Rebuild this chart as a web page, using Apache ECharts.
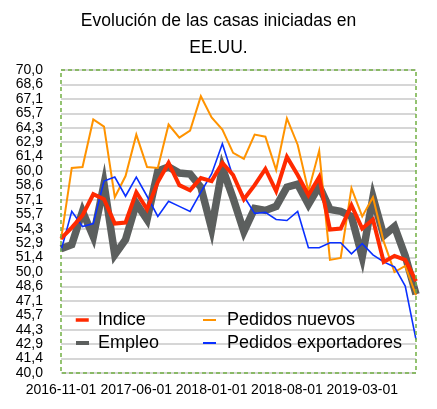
<!DOCTYPE html>
<html>
<head>
<meta charset="utf-8">
<script src="https://cdn.jsdelivr.net/npm/echarts@6/dist/echarts.min.js"></script>
<style>
html,body{margin:0;padding:0;background:#fff;}
#chart{width:437px;height:409px;}
</style>
</head>
<body>
<div id="chart"></div>
<script>
const categories = [
  "2016-11-01","2016-12-01","2017-01-01","2017-02-01","2017-03-01","2017-04-01","2017-05-01",
  "2017-06-01","2017-07-01","2017-08-01","2017-09-01","2017-10-01","2017-11-01","2017-12-01",
  "2018-01-01","2018-02-01","2018-03-01","2018-04-01","2018-05-01","2018-06-01","2018-07-01",
  "2018-08-01","2018-09-01","2018-10-01","2018-11-01","2018-12-01","2019-01-01","2019-02-01",
  "2019-03-01","2019-04-01","2019-05-01","2019-06-01","2019-07-01","2019-08-01"
];
const indice = [53.3, 54.4, 55.6, 57.7, 57.2, 54.8, 54.9, 57.9, 56.2, 58.9, 60.8, 58.6, 58.1, 59.3, 59.0, 60.8, 59.6,
  57.2, 58.6, 60.2, 58.0, 61.4, 59.6, 57.6, 59.4, 54.2, 54.3, 56.6, 54.3, 55.2, 51.0, 51.6, 51.2, 49.1];
const empleo = [52.3, 52.7, 56.0, 53.5, 58.7, 51.7, 53.2, 56.8, 55.2, 60.0, 60.4, 59.8, 59.7, 58.4, 54.3, 60.3, 57.3,
  54.0, 56.3, 56.1, 56.5, 58.4, 58.7, 56.7, 58.5, 56.2, 56.0, 55.5, 51.5, 57.4, 53.6, 54.5, 51.6, 47.8];
const pedidosNuevos = [53.2, 60.3, 60.4, 65.1, 64.4, 57.4, 59.5, 63.6, 60.4, 60.3, 64.6, 63.3, 64.0, 67.4, 65.3, 64.1, 61.8,
  61.2, 63.6, 63.4, 60.1, 65.2, 62.6, 58.0, 62.0, 51.2, 51.4, 58.3, 55.5, 57.4, 53.0, 50.0, 50.6, 47.7];
const pedidosExportadores = [52.1, 56.0, 54.5, 54.8, 59.0, 59.4, 57.5, 59.4, 57.5, 55.5, 57.0, 56.5, 56.0, 57.9, 59.7, 62.7, 59.4,
  57.5, 55.8, 55.9, 55.2, 55.1, 56.0, 52.4, 52.4, 52.9, 52.9, 51.8, 52.8, 51.7, 51.0, 50.5, 48.6, 43.3];
const yMin = 40, yMax = 70, yStep = 30 / 21;

const FONT = "'Liberation Sans', Arial, Helvetica, sans-serif";
const G = {left: 61, top: 70, right: 21, bottom: 36};
const W = 437, H = 409;

const chart = echarts.init(document.getElementById('chart'), null, {renderer: 'canvas'});
const lineBase = {type: 'line', symbol: 'none', smooth: false};
function legendItem(name, left, top, thick, pad) {
  return {
    data: [name], left: left, top: top, padding: 0,
    itemWidth: 13, itemHeight: 14,
    itemStyle: {opacity: 0},
    lineStyle: {width: thick, cap: 'butt'},
    textStyle: {fontFamily: FONT, fontSize: 18, color: '#000', padding: [0, 0, 0, pad]}
  };
}
chart.setOption({
  animation: false,
  backgroundColor: '#ffffff',
  title: {
    text: 'Evolución de las casas iniciadas en\nEE.UU.',
    left: 'center', top: 8, padding: 0,
    textStyle: {fontFamily: FONT, fontSize: 17.5, fontWeight: 'normal', color: '#000', lineHeight: 27}
  },
  grid: G,
  legend: [
    legendItem('Indice', 74, 311, 3.5, 4),
    legendItem('Empleo', 74, 334, 4, 4),
    legendItem('Pedidos nuevos', 202, 311, 2, 6),
    legendItem('Pedidos exportadores', 202, 334, 2, 6)
  ],
  xAxis: {
    type: 'category', data: categories, boundaryGap: false,
    axisLine: {show: false}, axisTick: {show: false},
    axisLabel: {interval: 6, fontFamily: FONT, fontSize: 14, color: '#000', margin: 10},
    splitLine: {show: false}
  },
  yAxis: {
    type: 'value', min: yMin, max: yMax, interval: yStep,
    axisLine: {show: false}, axisTick: {show: false},
    axisLabel: {fontFamily: FONT, fontSize: 14, color: '#000', margin: 18,
      formatter: v => v.toFixed(1).replace('.', ',')},
    splitLine: {lineStyle: {color: '#d6d6d6', width: 1.8}}
  },
  graphic: [{
    type: 'rect', z: 100, silent: true,
    shape: {x: G.left, y: G.top, width: W - G.left - G.right, height: H - G.top - G.bottom},
    style: {fill: 'none', stroke: '#72b043', lineWidth: 1.5, lineDash: [4, 3]}
  }],
  series: [
    Object.assign({}, lineBase, {name: 'Indice', data: indice, z: 6,
      itemStyle: {color: '#ff2a00'}, lineStyle: {color: '#ff2a00', width: 4, join: 'miter'}}),
    Object.assign({}, lineBase, {name: 'Empleo', data: empleo, z: 2,
      itemStyle: {color: '#5c5f5e'}, lineStyle: {color: '#5c5f5e', width: 7.5, join: 'miter'}}),
    Object.assign({}, lineBase, {name: 'Pedidos nuevos', data: pedidosNuevos, z: 3,
      itemStyle: {color: '#ff9300'}, lineStyle: {color: '#ff9300', width: 2, join: 'miter'}}),
    Object.assign({}, lineBase, {name: 'Pedidos exportadores', data: pedidosExportadores, z: 4,
      itemStyle: {color: '#0a30ff'}, lineStyle: {color: '#0a30ff', width: 1.6, join: 'miter'}})
  ]
});
</script>
</body>
</html>
